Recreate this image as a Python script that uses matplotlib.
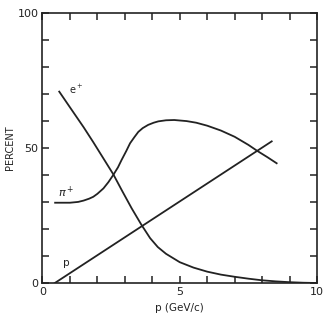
import matplotlib.pyplot as plt
import numpy as np

# curves (p in GeV/c, fraction in percent)
e_p = [0.61, 1.0, 1.5, 1.85, 2.2, 2.58, 2.9, 3.25, 3.6, 3.92, 4.2, 4.5, 5.0, 5.5,
       6.0, 6.5, 7.0, 7.5, 8.0, 8.5, 9.0, 9.5, 10.0]
e_pct = [70.8, 65.0, 57.6, 52.1, 46.4, 40.2, 34.1, 27.6, 21.6, 16.6, 13.3, 10.8, 7.7, 5.7,
         4.2, 3.1, 2.3, 1.6, 1.0, 0.6, 0.3, 0.1, 0.0]

pi_p = [0.46, 1.0, 1.3, 1.5, 1.7, 1.85, 2.0, 2.22, 2.4, 2.58, 2.75, 2.88, 3.05, 3.19,
        3.35, 3.49, 3.65, 3.85, 4.05, 4.22, 4.5, 4.8, 5.25, 5.6, 6.0, 6.5, 7.0, 7.5,
        7.82, 8.2, 8.53]
pi_pct = [29.7, 29.7, 30.0, 30.5, 31.2, 31.9, 33.0, 35.0, 37.3, 40.0, 42.8, 45.5, 48.8, 51.7,
          54.0, 55.9, 57.3, 58.5, 59.3, 59.8, 60.2, 60.3, 59.9, 59.3, 58.2, 56.4, 54.1, 51.1,
          48.9, 46.5, 44.3]

p_p = [0.45, 8.35]
p_pct = [0.0, 52.4]

xlabels = {0: "0", 5: "5", 10: "10"}
ylabels = {0: "0", 50: "50", 100: "100"}

fig = plt.figure(figsize=(3.27, 3.22), dpi=100)
ax = fig.add_axes([42.5 / 327, 39 / 322, 274.5 / 327, 270.3 / 322])

col = "#222222"
for xs, ys in [(e_p, e_pct), (pi_p, pi_pct), (p_p, p_pct)]:
    ax.plot(xs, ys, color=col, lw=1.3, solid_joinstyle="round")

ax.text(0.95, 71.5, "e$^+$", fontsize=7, color=col, ha="left", va="center")
ax.text(0.55, 33.5, r"$\pi^+$", fontsize=8, color=col, ha="left", va="center")
ax.text(0.75, 7.5, "p", fontsize=7.5, color=col, ha="left", va="center")

ax.set_xlim(0, 10)
ax.set_ylim(0, 100)
ax.set_xticks(np.arange(0, 11, 1))
ax.set_yticks(np.arange(0, 101, 10))
ax.set_xticklabels([xlabels.get(int(t), "") for t in ax.get_xticks()])
ax.set_yticklabels([ylabels.get(int(t), "") for t in ax.get_yticks()])
ax.tick_params(direction="in", length=5, width=1.1, top=True, right=True,
               labelsize=8, colors=col, pad=3)

for s in ax.spines.values():
    s.set_linewidth(1.2)
    s.set_color(col)

ax.set_xlabel("p (GeV/c)", fontsize=7.5, color=col, labelpad=4)
ax.set_ylabel("PERCENT", fontsize=7, color=col, labelpad=2)

fig.savefig("out.png", dpi=100)
